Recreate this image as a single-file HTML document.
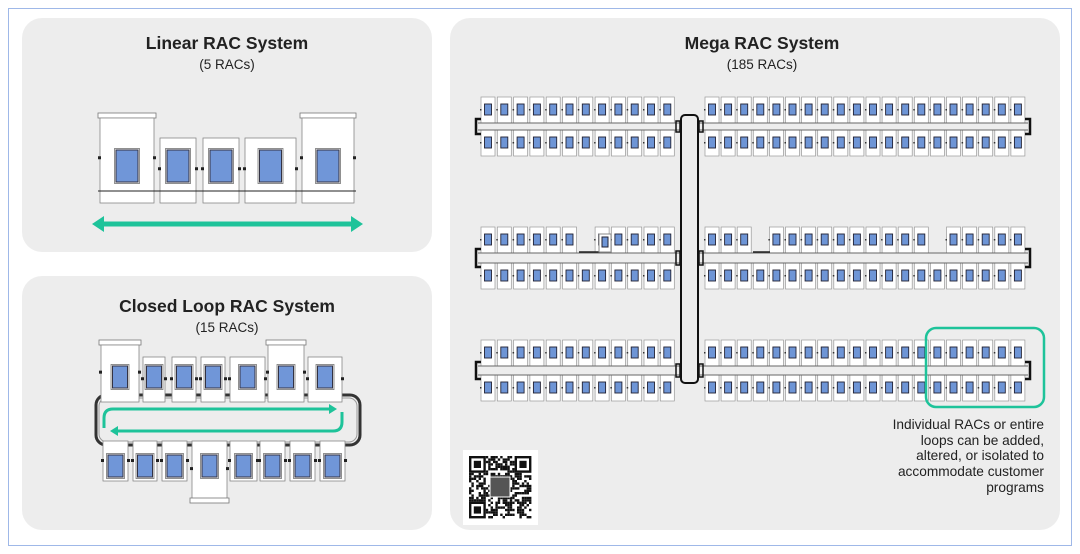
<!DOCTYPE html>
<html><head><meta charset="utf-8"><style>
html,body{margin:0;padding:0;background:#fff;width:1080px;height:554px;overflow:hidden}
svg text{font-family:"Liberation Sans",sans-serif;fill:#222}
</style></head><body>
<svg id="s" width="1080" height="554" viewBox="0 0 1080 554" xmlns="http://www.w3.org/2000/svg">
<rect x="8.5" y="8.5" width="1063" height="537" fill="#fff" stroke="#9fb8e8" stroke-width="1"/>
<rect x="22" y="18" width="410" height="234" rx="20" fill="#ededed"/>
<rect x="22" y="276" width="410" height="254" rx="20" fill="#ededed"/>
<rect x="450" y="18" width="610" height="512" rx="20" fill="#ededed"/>
<text x="227" y="49" font-size="17.5" font-weight="bold" text-anchor="middle">Linear RAC System</text>
<text x="227" y="69" font-size="13.5" text-anchor="middle" fill="#333">(5 RACs)</text>
<text x="227" y="312" font-size="17.5" font-weight="bold" text-anchor="middle">Closed Loop RAC System</text>
<text x="227" y="332" font-size="13.5" text-anchor="middle" fill="#333">(15 RACs)</text>
<text x="762" y="49" font-size="17.5" font-weight="bold" text-anchor="middle">Mega RAC System</text>
<text x="762" y="69" font-size="13.5" text-anchor="middle" fill="#333">(185 RACs)</text>
<g font-size="13.7" text-anchor="end" fill="#333">
<text x="1044" y="429">Individual RACs or entire</text>
<text x="1044" y="445">loops can be added,</text>
<text x="1044" y="460">altered, or isolated to</text>
<text x="1044" y="476">accommodate customer</text>
<text x="1044" y="492">programs</text>
</g>
<g id="g"></g>
<rect x="926" y="328" width="118" height="79" rx="10" fill="none" stroke="#1ec39a" stroke-width="2.5"/>
</svg>
<script>
const g=document.getElementById('g');let h='';
function unit(x,y,w,hh,sw,sh,sy,cap){
 if(cap)h+=`<rect x="${x-2}" y="${y-5}" width="${w+4}" height="5" fill="#fff" stroke="#777" stroke-width="0.8"/>`;
 h+=`<rect x="${x}" y="${y}" width="${w}" height="${hh}" fill="#fff" stroke="#888" stroke-width="0.8"/>`;
 const sx=x+(w-sw)/2;
 h+=`<rect x="${sx-1.5}" y="${sy-1.5}" width="${sw+3}" height="${sh+3}" fill="#eee" stroke="#777" stroke-width="0.8"/><rect x="${sx}" y="${sy}" width="${sw}" height="${sh}" fill="#7096d8" stroke="#334" stroke-width="1"/>`;
 h+=`<rect x="${x-2}" y="${y+hh*0.45}" width="3" height="3" fill="#222"/><rect x="${x+w-1}" y="${y+hh*0.45}" width="3" height="3" fill="#222"/>`;
}
[[100,118,54,true],[160,138,36],[203,138,36],[245,138,51],[302,118,52,true]].forEach(u=>{
 unit(u[0],u[1],u[2],203-u[1],22,32,150,u[3]);});
h+=`<line x1="98" y1="191" x2="356" y2="191" stroke="#222" stroke-width="1"/>`;
h+=`<line x1="100" y1="224" x2="355" y2="224" stroke="#1ec39a" stroke-width="5"/><polygon points="92,224 104,216 104,232" fill="#1ec39a"/><polygon points="363,224 351,216 351,232" fill="#1ec39a"/>`;
h+=`<rect x="96" y="395" width="264" height="50" rx="10" fill="none" stroke="#333" stroke-width="3"/><rect x="99" y="398" width="258" height="44" rx="8" fill="none" stroke="#999" stroke-width="1"/>`;
[[101,345,38,true],[143,357,22],[172,357,24],[201,357,24],[230,357,35],[268,345,36,true],[308,357,34]].forEach(u=>{
 unit(u[0],u[1],u[2],402-u[1],15,22,366,u[3]);});
[[103,25],[133,24],[162,25],[192,35],[230,27],[260,25],[290,25],[320,25]].forEach((u,i)=>{
 unit(u[0],441,u[1],i==3?58:40,15,22,455,false);
 if(i==3)h+=`<rect x="${u[0]-2}" y="498" width="${u[1]+4}" height="5" fill="#fff" stroke="#777" stroke-width="0.8"/>`;});
h+=`<path d="M104,428 V418 Q104,409 113,409 H330" fill="none" stroke="#1ec39a" stroke-width="3"/><polygon points="337,409 329,404 329,414" fill="#1ec39a"/>`;
h+=`<path d="M342,412 V422 Q342,431 333,431 H118" fill="none" stroke="#1ec39a" stroke-width="3"/><polygon points="110,431 118,426 118,436" fill="#1ec39a"/>`;
function mu(x,y){h+=`<rect x="${x}" y="${y}" width="14" height="26" fill="#fff" stroke="#999" stroke-width="0.7"/><rect x="${x+3.5}" y="${y+7}" width="7" height="11" fill="#6e95d6" stroke="#223" stroke-width="0.9"/><rect x="${x-1}" y="${y+12}" width="1.5" height="1.5" fill="#333"/>`;}
[[97,130],[227,263],[340,375]].forEach((r,ri)=>{
 for(let i=0;i<12;i++){ if(!(ri==1&&(i==6))) mu(481+i*16.3,r[0]); mu(481+i*16.3,r[1]);}
 for(let i=0;i<20;i++){ if(!(ri==1&&(i==3||i==14))) mu(705+i*16.1,r[0]); mu(705+i*16.1,r[1]);}
 const y1=r[0]+26,y2=r[1];
 h+=`<line x1="478" y1="${y1}" x2="1028" y2="${y1}" stroke="#666" stroke-width="1"/><line x1="478" y1="${y2}" x2="1028" y2="${y2}" stroke="#666" stroke-width="1"/>`;
 h+=`<path d="M481,${y1-4} h-5 v${y2-y1+8} h5" fill="none" stroke="#111" stroke-width="2.5"/>`;
 h+=`<path d="M1025,${y1-4} h5 v${y2-y1+8} h-5" fill="none" stroke="#111" stroke-width="2.5"/>`;
 h+=`<rect x="676" y="${y1-2}" width="4" height="${y2-y1+4}" fill="none" stroke="#111" stroke-width="1.5"/><rect x="699" y="${y1-2}" width="4" height="${y2-y1+4}" fill="none" stroke="#111" stroke-width="1.5"/>`;
});
h+=`<line x1="579" y1="252" x2="600" y2="252" stroke="#222" stroke-width="1.5"/><rect x="599" y="234" width="12" height="18" fill="#fff" stroke="#888"/><rect x="602" y="237" width="6" height="10" fill="#6e95d6" stroke="#223"/>`;
h+=`<line x1="753" y1="252" x2="770" y2="252" stroke="#222" stroke-width="1.5"/>`;
h+=`<rect x="681" y="115" width="17" height="268" rx="4" fill="#ededed" stroke="#111" stroke-width="2"/>`;
h+=`<rect x="463" y="450" width="75" height="75" fill="#fff"/>`;
let seed=7;function rnd(){seed=(seed*9301+49297)%233280;return seed/233280;}
const c=2.4,ox=469,oy=456,n=26;
for(let yy=0;yy<n;yy++)for(let xx=0;xx<n;xx++){
 const f=(xx<7&&yy<7)||(xx>=n-7&&yy<7)||(xx<7&&yy>=n-7);
 if(f)continue; if(rnd()<0.5)h+=`<rect x="${ox+xx*c}" y="${oy+yy*c}" width="${c}" height="${c}" fill="#111"/>`;}
[[0,0],[n-7,0],[0,n-7]].forEach(p=>{const X=ox+p[0]*c,Y=oy+p[1]*c;h+=`<rect x="${X}" y="${Y}" width="${7*c}" height="${7*c}" fill="#111"/><rect x="${X+c}" y="${Y+c}" width="${5*c}" height="${5*c}" fill="#fff"/><rect x="${X+2*c}" y="${Y+2*c}" width="${3*c}" height="${3*c}" fill="#111"/>`;});
h+=`<rect x="490" y="477" width="20" height="20" fill="#555" stroke="#fff"/>`;
g.innerHTML=h;
</script>
</body></html>
